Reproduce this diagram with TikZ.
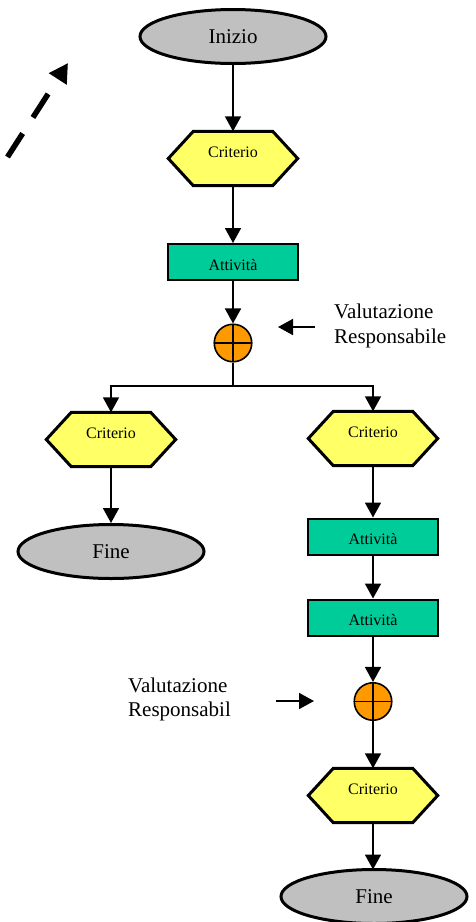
\documentclass[tikz,border=0pt]{standalone}
\usepackage{fontspec}
\setmainfont{Liberation Serif}
\usetikzlibrary{shapes.geometric,arrows.meta,backgrounds}

\definecolor{termgray}{HTML}{C0C0C0}
\definecolor{crityellow}{HTML}{FFFF66}
\definecolor{taskteal}{HTML}{00CC99}
\definecolor{xororange}{HTML}{FF9900}

\tikzset{
  terminal/.style={ellipse, draw, line width=3pt, fill=termgray,
    minimum width=186pt, minimum height=54pt, inner sep=0pt,
    font=\fontsize{21}{25}\selectfont},
  criterion/.style={rectangle, minimum width=129pt, minimum height=54pt,
    inner sep=0pt, font=\fontsize{16}{19}\selectfont, text depth=12pt},
  hexborder/.style={draw, line width=3pt, fill=crityellow, line join=miter},
  task/.style={rectangle, draw, line width=2pt, fill=taskteal,
    minimum width=130pt, minimum height=36pt, inner sep=0pt,
    font=\fontsize{16}{19}\selectfont, text height=16pt, text depth=0pt},
  xorgate/.style={circle, draw, line width=1.6pt, fill=xororange,
    minimum size=37.5pt, inner sep=0pt,
    path picture={\draw[line width=1.6pt]
      (path picture bounding box.north) -- (path picture bounding box.south)
      (path picture bounding box.west) -- (path picture bounding box.east);}},
  note/.style={align=left, anchor=west, inner sep=0pt,
    font=\fontsize{21}{24.7}\selectfont},
  link/.style={line width=1.8pt},
  flow/.style={link, -{Triangle[length=15pt,width=16pt]}},
}

% hexagonal outline around a criterion node
\newcommand\hexoutline[1]{%
  \draw[hexborder] (#1.west) -- ([xshift=25pt]#1.north west)
    -- ([xshift=-25pt]#1.north east) -- (#1.east)
    -- ([xshift=-25pt]#1.south east) -- ([xshift=25pt]#1.south west) -- cycle;}

\begin{document}
\begin{tikzpicture}[x=1pt,y=-1pt]
  \useasboundingbox (0,0) rectangle (475,922);

  % main column
  \node[terminal]  (inizio) at (233,36.5)  {Inizio};
  \node[criterion] (crit1)  at (233,158.5) {Criterio};
  \node[task]      (att1)   at (233,262)   {Attività};
  \node[xorgate]   (xor1)   at (233,343)   {};
  \coordinate (split) at (233,386);

  % left branch
  \node[criterion] (crit2) at (111,439.5) {Criterio};
  \node[terminal]  (fine1) at (111,551.5) {Fine};

  % right branch
  \node[criterion] (crit3) at (373,438.5) {Criterio};
  \node[task]      (att2)  at (373,536.5) {Attività};
  \node[task]      (att3)  at (373,617.5) {Attività};
  \node[xorgate]   (xor2)  at (373,701.5) {};
  \node[criterion] (crit4) at (373,795.5) {Criterio};
  \node[terminal]  (fine2) at (374,896.5) {Fine};
  \coordinate (fine2top) at (373,869.5);

  \begin{scope}[on background layer]
    \hexoutline{crit1}
    \hexoutline{crit2}
    \hexoutline{crit3}
    \hexoutline{crit4}
  \end{scope}

  % control flow
  \draw[flow] (inizio) -- (crit1);
  \draw[flow] (crit1) -- (att1);
  \draw[flow] (att1) -- (xor1);
  \draw[link] (xor1.south) -- (split);
  \draw[flow] (split) -| (crit2.north);
  \draw[flow] (split) -| (crit3.north);
  \draw[flow] (crit2) -- (fine1);
  \draw[flow] (crit3) -- (att2);
  \draw[flow] (att2) -- (att3);
  \draw[flow] (att3) -- (xor2);
  \draw[flow] (xor2) -- (crit4);
  \draw[flow] (crit4.south) -- (fine2top);

  % evaluation notes
  \node[note] (eval1) at (334,325.7) {Valutazione\\Responsabile};
  \coordinate (eval1from) at (315,327);
  \coordinate (eval1to)   at (278,327);
  \draw[flow] (eval1from) -- (eval1to);

  \node[note] (eval2) at (128,699.5) {Valutazione\\Responsabil};
  \coordinate (eval2from) at (276,701);
  \coordinate (eval2to)   at (314,701);
  \draw[flow] (eval2from) -- (eval2to);

  % dashed direction arrow
  \coordinate (dashtail) at (7.5,157);
  \coordinate (dashhead) at (68,63);
  \draw[line width=5.5pt, dash pattern=on 28pt off 19pt,
        -{Triangle[length=19pt,width=20pt]}] (dashtail) -- (dashhead);
\end{tikzpicture}
\end{document}
